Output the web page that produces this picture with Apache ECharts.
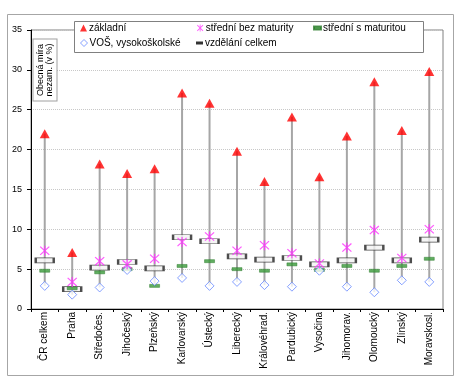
<!DOCTYPE html>
<html><head><meta charset="utf-8">
<script src="https://cdn.jsdelivr.net/npm/echarts@6/dist/echarts.min.js"></script>
<style>html,body{margin:0;padding:0;background:#fff}#c{width:472px;height:387px}</style>
</head><body><div id="c"></div>
<script>
const categories = ['ČR celkem','Praha','Středočes.','Jihočeský','Plzeňský','Karlovarský','Ústecký','Liberecký','Královéhrad.','Pardubický','Vysočina','Jihomorav.','Olomoucký','Zlínský','Moravskosl.'];
const zakladni = [22.0,7.1,18.2,17.0,17.6,27.1,25.8,19.8,16.0,24.1,16.6,21.7,28.5,22.4,29.8];
const bezMaturity = [7.3,3.4,6.0,5.6,6.3,8.4,9.1,7.3,8.0,7.0,5.7,7.7,9.9,6.4,10.0];
const sMaturitou = [4.8,2.6,4.6,5.0,2.9,5.4,6.0,5.0,4.8,5.6,4.9,5.4,4.8,5.4,6.3];
const vos = [2.9,1.8,2.7,4.9,3.5,3.9,2.9,3.4,3.0,2.8,4.8,2.8,2.1,3.6,3.4];
const celkem = [6.1,2.5,5.2,5.9,5.1,9.0,8.5,6.6,6.2,6.4,5.6,6.1,7.7,6.1,8.7];
const yTicks = [0,5,10,15,20,25,30,35];

const FONT = 'Liberation Sans, Arial, sans-serif';
const ASTER = 'path://M4.4,0 L5.6,0 L5.6,10 L4.4,10 Z M0.5,1.3 L1.3,0.5 L9.5,8.7 L8.7,9.5 Z M8.7,0.5 L9.5,1.3 L1.3,9.5 L0.5,8.7 Z';

const rangeData = categories.map((c, i) => {
  const vals = [zakladni[i], bezMaturity[i], sMaturitou[i], vos[i], celkem[i]];
  return [i, Math.min.apply(null, vals), Math.max.apply(null, vals)];
});

const chart = echarts.init(document.getElementById('c'), null, {renderer: 'canvas'});

function leg(name, left, top, icon, extra) {
  return Object.assign({
    left: left, top: top, padding: 0, itemWidth: 7, itemHeight: 7, z: 6,
    textStyle: {fontFamily: FONT, fontSize: 10, color: '#000', padding: [0, 0, 0, -3]},
    selectedMode: false,
    data: [{name: name, icon: icon}]
  }, extra || {});
}

const option = {
  animation: false,
  backgroundColor: '#fff',
  textStyle: {fontFamily: FONT},
  grid: {left: 31, right: 29, top: 30, bottom: 78, show: true, borderColor: '#808080', borderWidth: 1, backgroundColor: 'transparent'},
  legend: [
    leg('základní', 80, 23, 'triangle'),
    leg('střední bez maturity', 197, 23, ASTER),
    leg('střední s maturitou', 313, 23, 'rect', {itemWidth: 7, itemHeight: 3}),
    leg('VOŠ, vysokoškolské', 80, 38, 'diamond'),
    leg('vzdělání celkem', 196, 38, 'rect', {itemWidth: 7, itemHeight: 3})
  ],
  graphic: [
    {type: 'rect', z: 0, shape: {x: 7.5, y: 14.5, width: 446, height: 361}, style: {fill: 'none', stroke: '#a6a6a6', lineWidth: 1}},
    {type: 'rect', z: 5, shape: {x: 74.5, y: 21.5, width: 349, height: 31}, style: {fill: '#fff', stroke: '#808080', lineWidth: 1}},
    {type: 'text', z: 5, x: 45, y: 70, rotation: Math.PI / 2,
     style: {text: 'Obecná míra\nnezam. (v %)', fontFamily: FONT, fontSize: 9, fill: '#000', align: 'center', verticalAlign: 'middle',
             backgroundColor: '#fff', borderColor: '#a0a0a0', borderWidth: 1, padding: [3, 4, 2, 4], lineHeight: 9}}
  ],
  xAxis: {
    type: 'category', data: categories, boundaryGap: true,
    axisLine: {show: true, lineStyle: {color: '#000', width: 1}},
    axisTick: {show: true, length: 3, lineStyle: {color: '#000'}},
    axisLabel: {rotate: 90, fontSize: 10, color: '#000', margin: 3, fontFamily: FONT, interval: 0},
    splitLine: {show: false}
  },
  yAxis: {
    type: 'value', min: 0, max: 35, interval: 5,
    axisLine: {show: true, lineStyle: {color: '#000', width: 1}},
    axisTick: {show: true, length: 4, lineStyle: {color: '#000'}},
    axisLabel: {fontSize: 9, color: '#000', margin: 9, fontFamily: FONT,
      formatter: v => yTicks.indexOf(v) >= 0 ? String(v) : ''},
    splitLine: {show: true, lineStyle: {color: '#c8c8c8', type: 'dotted', width: 1}}
  },
  series: [
    {type: 'custom', name: 'range', z: 1, data: rangeData,
     renderItem: function (params, api) {
       const p1 = api.coord([api.value(0), api.value(1)]);
       const p2 = api.coord([api.value(0), api.value(2)]);
       return {type: 'line', shape: {x1: p1[0], y1: p1[1], x2: p2[0], y2: p2[1]}, style: {stroke: '#a6a6a6', lineWidth: 2}};
     }},
    {type: 'scatter', name: 'vzdělání celkem', z: 2, data: celkem, symbol: 'rect', symbolSize: [18, 5],
     itemStyle: {color: '#f2f2f2', borderColor: '#222', borderWidth: 1.3}},
    {type: 'scatter', name: 'základní', z: 3, data: zakladni, symbol: 'triangle', symbolSize: [10, 9],
     itemStyle: {color: '#ff0000'}},
    {type: 'scatter', name: 'střední s maturitou', z: 3, data: sMaturitou, symbol: 'rect', symbolSize: [10, 3],
     itemStyle: {color: '#3a9a3a', borderColor: '#2a7a2a', borderWidth: 0.5}},
    {type: 'scatter', name: 'VOŠ, vysokoškolské', z: 4, data: vos, symbol: 'diamond', symbolSize: [9, 9],
     itemStyle: {color: '#fff', borderColor: '#6688ff', borderWidth: 1}},
    {type: 'scatter', name: 'střední bez maturity', z: 5, data: bezMaturity, symbol: ASTER, symbolSize: [10, 10],
     itemStyle: {color: '#ff33ff'}}
  ]
};
option.legend[4].data[0].itemStyle = {color: '#000', borderWidth: 0};
option.legend[3].data[0].itemStyle = {color: '#fff', borderColor: '#6688ff', borderWidth: 1};
chart.setOption(option);
</script></body></html>
